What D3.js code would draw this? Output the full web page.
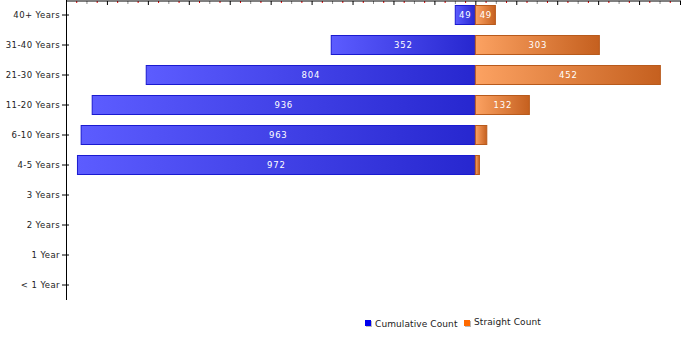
<!DOCTYPE html>
<html>
<head>
<meta charset="utf-8">
<script src="https://cdn.jsdelivr.net/npm/d3@7"></script>
<style>
  body { margin: 0; background: #fff; }
  svg { display: block; font-family: "DejaVu Sans", Verdana, sans-serif; }
</style>
</head>
<body>
<svg width="700" height="350"></svg>
<script>
const categories = ["40+ Years", "31-40 Years", "21-30 Years", "11-20 Years", "6-10 Years",
  "4-5 Years", "3 Years", "2 Years", "1 Year", "< 1 Year"];
const cumulative = [49, 352, 804, 936, 963, 972, 0, 0, 0, 0];
const straight = [49, 303, 452, 132, 28, 10, 0, 0, 0, 0];
const seriesNames = ["Cumulative Count", "Straight Count"];

const svg = d3.select("svg");
const margin = { top: 1, left: 66, right: 20, bottom: 50 };
const plotRight = 680;
const plotBottom = 300;

const x = d3.scaleLinear().domain([-1000, 500]).range([margin.left, plotRight]);
const y = d3.scaleBand().domain(categories).range([0, plotBottom]).paddingInner(1 / 3).paddingOuter(1 / 6);

// gradients
const defs = svg.append("defs");
const grad = (id, c0, c1) => {
  const g = defs.append("linearGradient").attr("id", id);
  g.append("stop").attr("offset", "0%").attr("stop-color", c0);
  g.append("stop").attr("offset", "100%").attr("stop-color", c1);
};
grad("gBlue", "#5c5cff", "#2727cf");
grad("gOrange", "#fca262", "#c5601f");

const rows = categories.map((c, i) => ({ cat: c, cum: cumulative[i], str: straight[i] }));

const bars = svg.append("g");
bars.selectAll("rect.cum")
  .data(rows.filter((d) => d.cum > 0))
  .join("rect")
  .attr("class", "cum")
  .attr("x", (d) => x(-d.cum))
  .attr("y", (d) => y(d.cat) + 0.5)
  .attr("width", (d) => x(0) - x(-d.cum))
  .attr("height", y.bandwidth() - 1)
  .attr("fill", "url(#gBlue)")
  .attr("stroke", "#1a1ad0")
  .attr("stroke-width", 1);

bars.selectAll("rect.str")
  .data(rows.filter((d) => d.str > 0))
  .join("rect")
  .attr("class", "str")
  .attr("x", x(0))
  .attr("y", (d) => y(d.cat) + 0.5)
  .attr("width", (d) => x(d.str) - x(0))
  .attr("height", y.bandwidth() - 1)
  .attr("fill", "url(#gOrange)")
  .attr("stroke", "#b85a1c")
  .attr("stroke-width", 1);

// value labels
const labels = svg.append("g")
  .attr("fill", "#fff")
  .attr("font-size", 8.5)
  .attr("letter-spacing", 0.8)
  .attr("text-anchor", "middle");
labels.selectAll("text.cum")
  .data(rows.filter((d) => d.cum > 0))
  .join("text")
  .attr("x", (d) => (x(-d.cum) + x(0)) / 2)
  .attr("y", (d) => y(d.cat) + y.bandwidth() / 2 + 3)
  .text((d) => d.cum);
labels.selectAll("text.str")
  .data(rows.filter((d) => d.str > 40))
  .join("text")
  .attr("x", (d) => (x(d.str) + x(0)) / 2 + 0.5)
  .attr("y", (d) => y(d.cat) + y.bandwidth() / 2 + 3)
  .text((d) => d.str);

// top axis, three tick levels
const topAxis = (values, size, color) => {
  const g = svg.append("g")
    .attr("transform", `translate(0,${margin.top})`)
    .call(d3.axisBottom(x).tickValues(values).tickSize(size).tickFormat(""));
  g.select(".domain").remove();
  g.selectAll(".tick line").attr("stroke", color);
};
topAxis(d3.range(-975, 500, 50), 2, "#e00000");
topAxis(d3.range(-950, 500, 100), 3, "#888");
topAxis(d3.range(-900, 501, 100), 4, "#000");
svg.append("line")
  .attr("x1", margin.left).attr("x2", plotRight + 1)
  .attr("y1", margin.top).attr("y2", margin.top)
  .attr("stroke", "#000");

// left axis
const yAxisG = svg.append("g")
  .attr("transform", `translate(${margin.left},0)`)
  .call(d3.axisLeft(y).tickSize(4).tickPadding(2));
yAxisG.select(".domain").attr("d", `M0.5,0V${plotBottom}`).attr("stroke", "#000");
yAxisG.selectAll(".tick line").attr("x1", 3).attr("x2", -4).attr("stroke", "#000");
yAxisG.selectAll(".tick text")
  .attr("font-size", 8.5)
  .attr("letter-spacing", 0.4)
  .attr("font-family", "DejaVu Sans, Verdana, sans-serif")
  .attr("fill", "#222");

// legend
const legend = svg.append("g").attr("font-size", 9).attr("letter-spacing", 0.1).attr("fill", "#222");
const legendColors = ["#0000ee", "#ff6a00"];
const legendX = [365, 464];
const textY = [327, 325];
seriesNames.forEach((name, i) => {
  legend.append("rect")
    .attr("x", legendX[i] + 1).attr("y", 321)
    .attr("width", 6).attr("height", 6).attr("fill", "#bbb");
  legend.append("rect")
    .attr("x", legendX[i]).attr("y", 320)
    .attr("width", 6).attr("height", 6).attr("fill", legendColors[i]);
  legend.append("text")
    .attr("x", legendX[i] + 10).attr("y", textY[i])
    .text(name);
});
</script>
</body>
</html>
